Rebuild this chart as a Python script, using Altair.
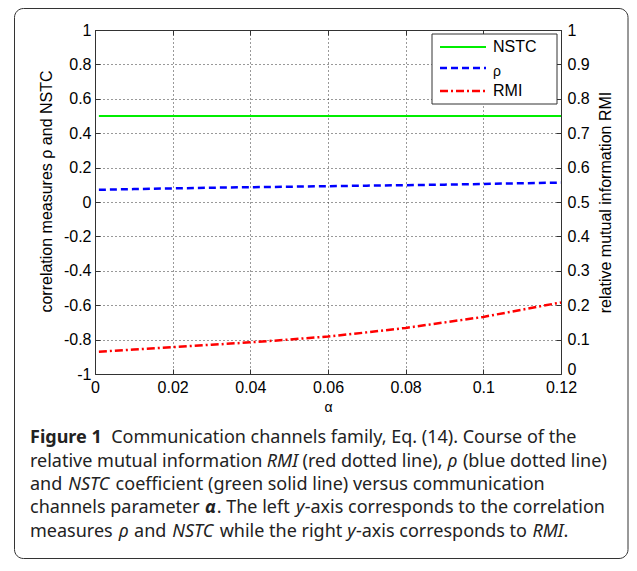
import altair as alt
import pandas as pd

# ---------------- data ----------------
alpha = [0.001, 0.01, 0.02, 0.03, 0.04, 0.05, 0.06, 0.07, 0.08, 0.09, 0.10, 0.11, 0.12]
nstc = [0.5, 0.5, 0.5, 0.5, 0.5, 0.5, 0.5, 0.5, 0.5, 0.5, 0.5, 0.5, 0.5]
rho = [0.071, 0.075, 0.079, 0.083, 0.086, 0.089, 0.092, 0.095, 0.098, 0.101, 0.105, 0.109, 0.113]
rmi = [0.065, 0.071, 0.078, 0.085, 0.092, 0.100, 0.109, 0.121, 0.134, 0.150, 0.166, 0.187, 0.208]

x_ticks = [0, 0.02, 0.04, 0.06, 0.08, 0.10, 0.12]
left_ticks = [-1, -0.8, -0.6, -0.4, -0.2, 0, 0.2, 0.4, 0.6, 0.8, 1]
right_ticks = [0, 0.1, 0.2, 0.3, 0.4, 0.5, 0.6, 0.7, 0.8, 0.9, 1]
legend_labels = ["NSTC", "ρ", "RMI"]

caption_lines = [
    [("Figure 1", "bold"), ("  Communication channels family, Eq. (14). Course of the", "normal")],
    [("relative mutual information ", "normal"), ("RMI", "italic"), (" (red dotted line), ", "normal"),
     ("ρ", "italic"), (" (blue dotted line)", "normal")],
    [("and ", "normal"), ("NSTC", "italic"), (" coefficient (green solid line) versus communication", "normal")],
    [("channels parameter ", "normal"), ("α", "bolditalic"), (". The left ", "normal"), ("y", "italic"),
     ("-axis corresponds to the correlation", "normal")],
    [("measures ", "normal"), ("ρ", "italic"), (" and ", "normal"), ("NSTC", "italic"),
     (" while the right ", "normal"), ("y", "italic"), ("-axis corresponds to ", "normal"),
     ("RMI", "italic"), (".", "normal")],
]

df = pd.DataFrame({"alpha": alpha, "nstc": nstc, "rho": rho, "rmi": rmi})
one = pd.DataFrame({"k": [0]})  # single row for annotation marks

# ---------------- styles ----------------
AX_FONT = "Liberation Sans"
W, H = 466, 344
GRID = dict(grid=True, gridDash=[1, 3], gridColor="#333", gridWidth=1, gridOpacity=1)
TICKS_IN = dict(labels=False, domain=False, grid=False, ticks=True, tickSize=5,
                tickColor="#333", tickWidth=1, title=None)

x_scale = alt.Scale(domain=[0, 0.12], nice=False, zero=False)
x_main_axis = alt.Axis(values=x_ticks, labelExpr="'' + round(datum.value*100)/100", title="α",
                       ticks=False, domain=False, labelFlush=False, labelPadding=5,
                       titlePadding=5, titleFontSize=14, **GRID)
x_main = alt.X("alpha:Q", scale=x_scale, axis=x_main_axis)
x_bot_in = alt.X("alpha:Q", scale=x_scale,
                 axis=alt.Axis(values=x_ticks, orient="top", offset=-H, **TICKS_IN))
x_top_in = alt.X("alpha:Q", scale=x_scale,
                 axis=alt.Axis(values=x_ticks, orient="bottom", offset=-H, **TICKS_IN))

left_scale = alt.Scale(domain=[-1, 1], nice=False, zero=False)
left_axis = alt.Axis(values=left_ticks, labelExpr="'' + round(datum.value*10)/10",
                     title="correlation measures ρ and NSTC", orient="left",
                     ticks=False, domain=False, labelFlush=False, labelPadding=4,
                     titlePadding=9, titleY=161, **GRID)
left_in_axis = alt.Axis(values=left_ticks, orient="right", offset=-W, **TICKS_IN)

right_scale = alt.Scale(domain=[0, 1], nice=False, zero=False)
right_axis = alt.Axis(values=right_ticks, labelExpr="'' + round(datum.value*10)/10",
                      title="relative mutual information RMI", orient="right",
                      ticks=False, domain=False, labelFlush=False, labelPadding=6,
                      labelOffset={"expr": "datum.value == 0 ? -5 : 0"},
                      titlePadding=8, titleAngle=270, titleBaseline="top", grid=False)
right_in_axis = alt.Axis(values=right_ticks, orient="left", offset=-W, **TICKS_IN)

GREEN, BLUE, RED = "#00ee00", "#0000ff", "#ff0000"
DASH_B = [7, 4]
DASH_R = [8, 3, 2, 3]

base = alt.Chart(df)
nstc_line = base.mark_line(color=GREEN, strokeWidth=2).encode(
    x=x_main, y=alt.Y("nstc:Q", scale=left_scale, axis=left_axis))
rho_line = base.mark_line(color=BLUE, strokeWidth=2.5, strokeDash=DASH_B).encode(
    x=x_main, y=alt.Y("rho:Q", scale=left_scale, axis=None))
left_ticks_layer = base.mark_point(opacity=0).encode(
    x=x_main, y=alt.Y("nstc:Q", scale=left_scale, axis=left_in_axis))
left_layer = alt.layer(nstc_line, rho_line, left_ticks_layer).resolve_axis(y="independent")

rmi_line = base.mark_line(color=RED, strokeWidth=2.5, strokeDash=DASH_R).encode(
    x=x_bot_in, y=alt.Y("rmi:Q", scale=right_scale, axis=right_axis))
right_ticks_layer = base.mark_point(opacity=0).encode(
    x=x_bot_in, y=alt.Y("rmi:Q", scale=right_scale, axis=right_in_axis))
right_layer = alt.layer(rmi_line, right_ticks_layer).resolve_axis(y="independent")

top_ticks_layer = base.mark_point(opacity=0).encode(x=x_top_in)

# ---------------- legend (manual, MATLAB style) ----------------
lg = []
lg.append(alt.Chart(one).mark_rect(fill="white", stroke="#333", strokeWidth=1).encode(
    x=alt.value(337), x2=alt.value(462), y=alt.value(4), y2=alt.value(74)))
leg_styles = [dict(color=GREEN, strokeWidth=2),
              dict(color=BLUE, strokeWidth=2.5, strokeDash=DASH_B),
              dict(color=RED, strokeWidth=2.5, strokeDash=DASH_R)]
leg_y = [17, 38, 61]
for lab, st, yy in zip(legend_labels, leg_styles, leg_y):
    lg.append(alt.Chart(one).mark_rule(**st).encode(
        x=alt.value(345), x2=alt.value(391), y=alt.value(yy)))
    fs = 14 if lab == "ρ" else 16
    dy = 4 if lab == "ρ" else 0
    lg.append(alt.Chart(one).mark_text(align="left", baseline="middle", font=AX_FONT,
                                       fontSize=fs, color="#000", dy=dy).encode(
        x=alt.value(398), y=alt.value(yy), text=alt.value(lab)))

# ---------------- caption ----------------
OS_W = {' ': 532, 'a': 1139, 'b': 1255, 'c': 975, 'd': 1255, 'e': 1149, 'f': 694, 'g': 1122,
        'h': 1257, 'i': 518, 'j': 518, 'k': 1075, 'l': 518, 'm': 1905, 'n': 1257, 'o': 1237,
        'p': 1255, 'q': 1255, 'r': 836, 's': 977, 't': 723, 'u': 1257, 'v': 1026, 'w': 1593,
        'x': 1073, 'y': 1028, 'z': 977, '.': 545, ',': 500, '(': 604, ')': 604, '-': 659,
        '0': 1171, '1': 1171, '2': 1171, '3': 1171, '4': 1171, '5': 1171, '6': 1171,
        '7': 1171, '8': 1171, '9': 1171, 'C': 1292, 'E': 1124, 'F': 1057, 'I': 614,
        'M': 1823, 'N': 1520, 'R': 1200, 'S': 1088, 'T': 1108, 'ρ': 1255, 'α': 1255}
CAP_FONT = "Noto Sans"
CAP_SIZE = 18
CAP_X0 = -65
CAP_Y = [413, 437, 460, 483, 507]


def text_w(s, style):
    w = sum(OS_W.get(ch, 1150) for ch in s) * CAP_SIZE / 2048
    if "bold" in style:
        w *= 1.07
    elif "italic" in style:
        w *= 0.97
    return w


cap = []
for line, yy in zip(caption_lines, CAP_Y):
    x = CAP_X0
    for seg, style in line:
        lead = len(seg) - len(seg.lstrip(" "))
        xd = x + text_w(" " * lead, "normal")
        if "italic" in style:
            shift = 2.5 if seg == "y" else 1.5
            xd += shift
            x += shift
        kw = dict(align="left", baseline="alphabetic", font=CAP_FONT, fontSize=CAP_SIZE,
                  color="#222", fontWeight="bold" if "bold" in style else "normal")
        if "italic" in style:
            kw["fontStyle"] = "italic"
        cap.append(alt.Chart(one).mark_text(**kw).encode(
            x=alt.value(round(xd, 1)), y=alt.value(yy), text=alt.value(seg.strip())))
        x += text_w(seg, style)

border = alt.Chart(one).mark_rect(fillOpacity=0, stroke="#333", strokeWidth=1, cornerRadius=9).encode(
    x=alt.value(-80.5), x2=alt.value(533), y=alt.value(-21.5), y2=alt.value(528.5))

chart = alt.layer(left_layer, right_layer, top_ticks_layer, *lg, *cap, border).resolve_scale(
    y="independent").resolve_axis(x="independent").properties(
    width=W, height=H,
    autosize=alt.AutoSizeParams(type="none"),
    padding={"left": 87, "top": 22, "right": 68, "bottom": 185},
).configure_view(stroke="#333", strokeWidth=1).configure_axis(
    labelFont=AX_FONT, labelFontSize=16, labelColor="#000",
    titleFont=AX_FONT, titleFontSize=16, titleFontWeight="normal", titleColor="#000",
)

chart.save("out.html", embed_options={"renderer": "svg", "actions": False})
